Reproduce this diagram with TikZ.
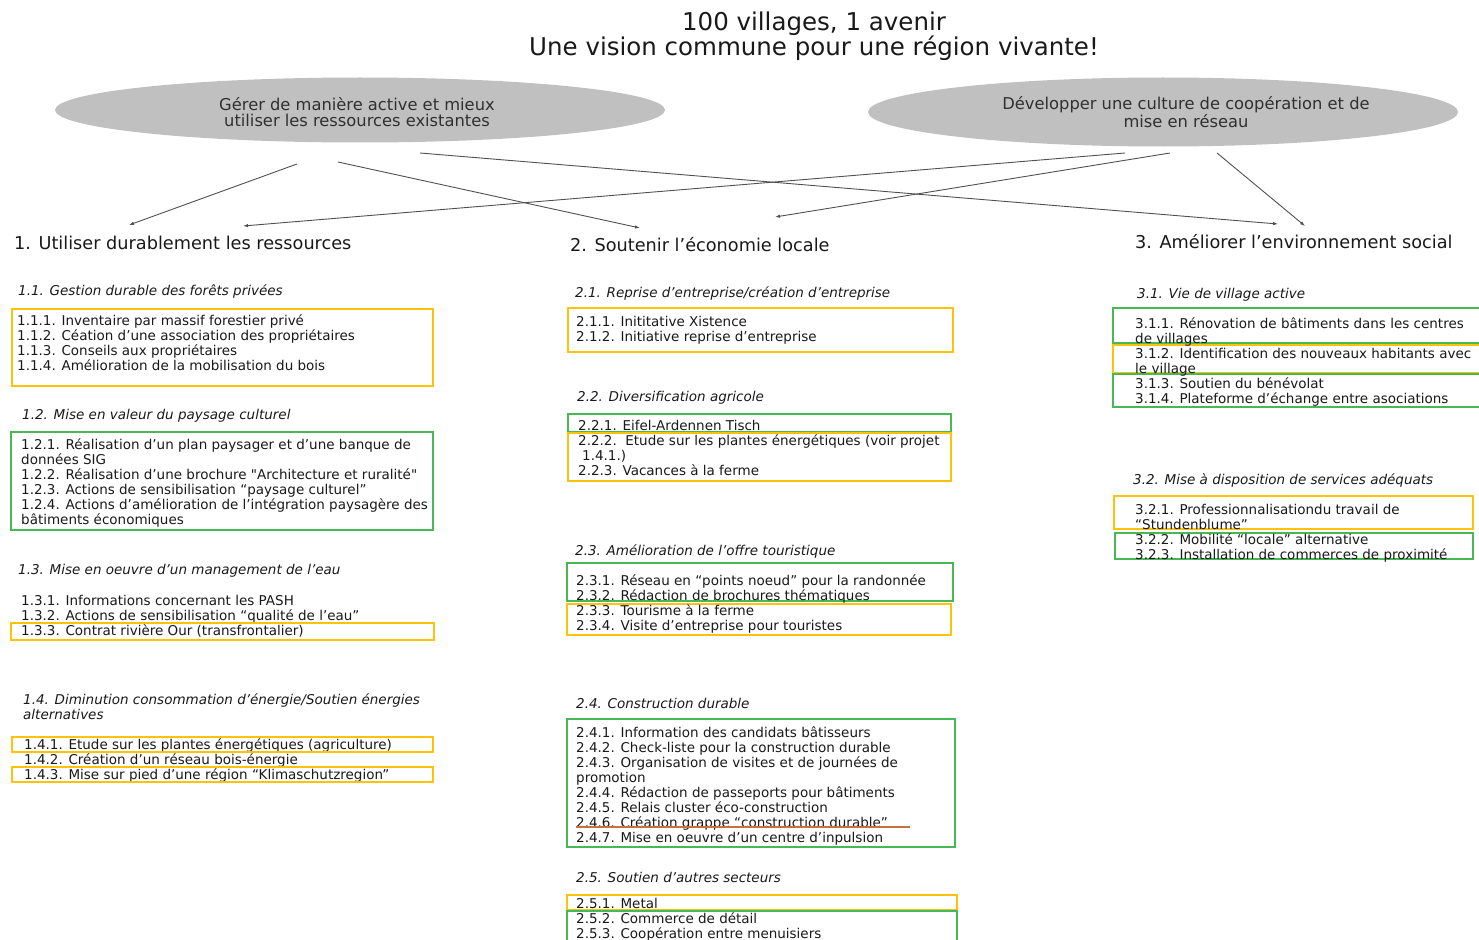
\documentclass[tikz,border=0pt]{standalone}
\usepackage{fontspec}
\setmainfont{DejaVu Sans}
\usetikzlibrary{arrows.meta,shapes.geometric}
\definecolor{boxyellow}{RGB}{255,194,10}
\definecolor{boxgreen}{RGB}{70,185,85}
\definecolor{ovalgray}{RGB}{192,192,192}
\definecolor{txt}{RGB}{25,25,25}
\definecolor{linegray}{RGB}{80,80,80}
\definecolor{lineorange}{RGB}{195,115,60}
\newcommand{\boxY}[4]{ \draw[boxyellow, line width=1.3pt] ( #1 , #2 ) rectangle ( #3 , #4 );}
\newcommand{\boxG}[4]{ \draw[boxgreen, line width=1.3pt] ( #1 , #2 ) rectangle ( #3 , #4 );}
\tikzset{
  item/.style={anchor=base west, inner sep=0pt, align=left, text=txt, font=\fontsize{13.5}{15}\selectfont},
  sub/.style={anchor=base west, inner sep=0pt, align=left, text=txt, font=\fontsize{13.5}{15}\selectfont\itshape},
  head/.style={anchor=base west, inner sep=0pt, text=txt, font=\fontsize{17.7}{20}\selectfont},
  oval/.style={ellipse, fill=ovalgray, inner sep=0pt},
  ovaltext/.style={align=center, inner sep=0pt, text=txt!90, font=\fontsize{16.3}{16}\selectfont},
  link/.style={linegray, line width=0.9pt, -{Latex[length=5pt,width=3.5pt]}}
}
\begin{document}
\begin{tikzpicture}[x=1pt,y=-1pt]
        \useasboundingbox (0,0) rectangle (1479,939);
        % title (base = last line)
        \node[anchor=base, inner sep=0pt, align=center, text=txt, font=\fontsize{24.5}{25}\selectfont] (title) at (814,56)
            {100 villages, 1 avenir\\Une vision commune pour une région vivante!};

        % ovals
        \node[oval, minimum width=610, minimum height=65] (gerer) at (360,110) {};
        \node[ovaltext] (gerertext) at (357,112) {Gérer de manière active et mieux\\utiliser les ressources existantes};
        \node[oval, minimum width=590, minimum height=69] (cooper) at (1163,112) {};
        \node[ovaltext] (coopertext) at (1186,112) {Développer une culture de coopération et de\\mise en réseau};

        % headings
        \node[head] (axe1) at (14,249) {1. Utiliser durablement les ressources};
        \node[head] (axe2) at (570,251) {2. Soutenir l’économie locale};
        \node[head] (axe3) at (1135,248) {3. Améliorer l’environnement social};

        % arrows
        \coordinate (g1) at (297,164); \coordinate (g2) at (338,162); \coordinate (g3) at (420,153);
        \coordinate (c1) at (1125,153); \coordinate (c2) at (1170,153); \coordinate (c3) at (1217,153);
        \coordinate (in1a) at (129,225); \coordinate (in1b) at (243,226);
        \coordinate (in2a) at (640,228); \coordinate (in2b) at (775,217);
        \coordinate (in3a) at (1278,224); \coordinate (in3b) at (1305,226);
        \draw[link] (g1) -- (in1a);
        \draw[link] (g2) -- (in2a);
        \draw[link] (g3) -- (in3a);
        \draw[link] (c1) -- (in1b);
        \draw[link] (c2) -- (in2b);
        \draw[link] (c3) -- (in3b);

        % column 1
        \node[sub] (s11) at (18,295) {1.1. Gestion durable des forêts privées};
        \boxY{12}{309}{433}{386}
        \node[item] (i11) at (17,370) {1.1.1. Inventaire par massif forestier privé\\1.1.2. Céation d’une association des propriétaires\\1.1.3. Conseils aux propriétaires\\1.1.4. Amélioration de la mobilisation du bois};
        \node[sub] (s12) at (22,419) {1.2. Mise en valeur du paysage culturel};
        \boxG{11}{432}{433}{530}
        \node[item] (i12) at (21,524) {1.2.1. Réalisation d’un plan paysager et d’une banque de\\données SIG\\1.2.2. Réalisation d’une brochure \textquotedbl Architecture et ruralité\textquotedbl\\1.2.3. Actions de sensibilisation “paysage culturel”\\1.2.4. Actions d’amélioration de l’intégration paysagère des\\bâtiments économiques};
        \node[sub] (s13) at (18,574) {1.3. Mise en oeuvre d’un management de l’eau};
        \node[item] (i13) at (21,635) {1.3.1. Informations concernant les PASH\\1.3.2. Actions de sensibilisation “qualité de l’eau”\\1.3.3. Contrat rivière Our (transfrontalier)};
        \boxY{11}{623}{434}{640}
        \node[sub] (s14) at (23,719) {1.4. Diminution consommation d’énergie/Soutien énergies\\alternatives};
        \node[item] (i14) at (24,779) {1.4.1. Etude sur les plantes énergétiques (agriculture)\\1.4.2. Création d’un réseau bois-énergie\\1.4.3. Mise sur pied d’une région “Klimaschutzregion”};
        \boxY{12}{737}{433}{752}
        \boxY{12}{767}{433}{782}

        % column 2
        \node[sub] (s21) at (575,297) {2.1. Reprise d’entreprise/création d’entreprise};
        \boxY{568}{308}{953}{352}
        \node[item] (i21) at (576,341) {2.1.1. Inititative Xistence\\2.1.2. Initiative reprise d’entreprise};
        \node[sub] (s22) at (577,401) {2.2. Diversification agricole};
        \boxG{568}{414}{951}{432}
        \boxY{568}{433}{951}{481}
        \node[item] (i22) at (578,475) {2.2.1. Eifel-Ardennen Tisch\\2.2.2.\ \ Etude sur les plantes énergétiques (voir projet\\\hspace{4pt}1.4.1.)\\2.2.3. Vacances à la ferme};
        \node[sub] (s23) at (575,555) {2.3. Amélioration de l’offre touristique};
        \boxG{567}{563}{953}{601}
        \boxY{567}{604}{951}{635}
        \node[item] (i23) at (576,630) {2.3.1. Réseau en “points noeud” pour la randonnée\\2.3.2. Rédaction de brochures thématiques\\2.3.3. Tourisme à la ferme\\2.3.4. Visite d’entreprise pour touristes};
        \node[sub] (s24) at (576,708) {2.4. Construction durable};
        \boxG{567}{719}{955}{847}
        \node[item] (i24) at (576,842) {2.4.1. Information des candidats bâtisseurs\\2.4.2. Check-liste pour la construction durable\\2.4.3. Organisation de visites et de journées de\\promotion\\2.4.4. Rédaction de passeports pour bâtiments\\2.4.5. Relais cluster éco-construction\\2.4.6. Création grappe “construction durable”\\2.4.7. Mise en oeuvre d’un centre d’inpulsion};
        \draw[lineorange, line width=1.3pt] (576,827) -- (910,827);
        \node[sub] (s25) at (576,882) {2.5. Soutien d’autres secteurs};
        \boxY{567}{895}{957}{910}
        \boxG{567}{911}{957}{945}
        \node[item] (i25) at (576,938) {2.5.1. Metal\\2.5.2. Commerce de détail\\2.5.3. Coopération entre menuisiers};

        % column 3
        \node[sub] (s31) at (1137,298) {3.1. Vie de village active};
        \boxG{1113}{308}{1485}{343}
        \boxY{1113}{345}{1485}{373}
        \boxG{1113}{374}{1485}{407}
        \node[item] (i31) at (1135,403) {3.1.1. Rénovation de bâtiments dans les centres\\de villages\\3.1.2. Identification des nouveaux habitants avec\\le village\\3.1.3. Soutien du bénévolat\\3.1.4. Plateforme d’échange entre asociations};
        \node[sub] (s32) at (1133,484) {3.2. Mise à disposition de services adéquats};
        \boxY{1114}{496}{1473}{529}
        \boxG{1115}{533}{1473}{559}
        \node[item] (i32) at (1135,559) {3.2.1. Professionnalisationdu travail de\\“Stundenblume”\\3.2.2. Mobilité “locale” alternative\\3.2.3. Installation de commerces de proximité};
\end{tikzpicture}
\end{document}
